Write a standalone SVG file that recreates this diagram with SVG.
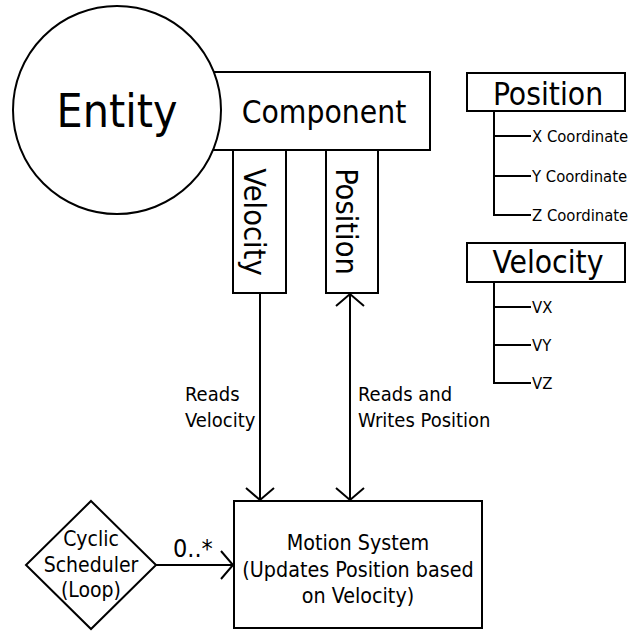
<svg xmlns="http://www.w3.org/2000/svg" width="636" height="631" viewBox="0 0 636 631">
<style>
text{font-family:"DejaVu Sans Condensed","DejaVu Sans",sans-serif;font-stretch:condensed;fill:#000}
.box{fill:#fff;stroke:#000;stroke-width:2}
.ln{fill:none;stroke:#000;stroke-width:2}
.c{text-anchor:middle}
</style>
<defs>
<marker id="open" markerUnits="userSpaceOnUse" markerWidth="32" markerHeight="32" viewBox="-16 -16 32 32" refX="0" refY="0" orient="auto-start-reverse" overflow="visible">
<path d="M-12,-14 L0,0 L-12,14" fill="none" stroke="#000" stroke-width="2"/>
</marker>
</defs>
<rect width="636" height="631" fill="#fff"/>
<g id="component">
<rect class="box" x="200" y="72" width="230" height="78"/>
<text class="c" x="324" y="123" font-size="31.5">Component</text>
</g>
<g id="entity">
<circle class="box" cx="117" cy="110" r="104"/>
<text class="c" x="117" y="127" font-size="46">Entity</text>
</g>
<g id="velocity-component">
<rect class="box" x="233" y="150" width="53" height="143"/>
<text class="c" transform="translate(255,222) rotate(90)" x="0" y="11" font-size="30.5">Velocity</text>
</g>
<g id="position-component">
<rect class="box" x="326" y="150" width="52" height="143"/>
<text class="c" transform="translate(347,221.5) rotate(90)" x="0" y="11" font-size="30.5">Position</text>
</g>
<g id="position-tree">
<rect class="box" x="467" y="73" width="158" height="38"/>
<text class="c" x="548" y="105" font-size="31.5">Position</text>
<path class="ln" d="M494,111 V215 H531 M494,136 H531 M494,176 H531"/>
<text x="532" y="142" font-size="16.5">X Coordinate</text>
<text x="532" y="182" font-size="16.5">Y Coordinate</text>
<text x="532" y="221" font-size="16.5">Z Coordinate</text>
</g>
<g id="velocity-tree">
<rect class="box" x="467" y="243" width="158" height="39"/>
<text class="c" x="548" y="273" font-size="31.5">Velocity</text>
<path class="ln" d="M494,282 V383 H531 M494,307 H531 M494,345 H531"/>
<text x="532" y="313" font-size="16.5">VX</text>
<text x="532" y="351" font-size="16.5">VY</text>
<text x="532" y="389" font-size="16.5">VZ</text>
</g>
<g id="scheduler">
<polygon class="box" points="91,501 156,565 91,629 26,565"/>
<text class="c" x="91" y="546" font-size="21">Cyclic</text>
<text class="c" x="91" y="572" font-size="21">Scheduler</text>
<text class="c" x="91" y="597" font-size="21">(Loop)</text>
</g>
<g id="motion-system">
<rect class="box" x="234" y="501" width="248" height="127"/>
<text class="c" x="358" y="550" font-size="21.3">Motion System</text>
<text class="c" x="358" y="577" font-size="21.3">(Updates Position based</text>
<text class="c" x="358" y="603" font-size="21.3">on Velocity)</text>
</g>
<g id="connectors">
<line class="ln" x1="260" y1="293" x2="260" y2="500" marker-end="url(#open)"/>
<line class="ln" x1="350" y1="294" x2="350" y2="500" marker-start="url(#open)" marker-end="url(#open)"/>
<line class="ln" x1="156" y1="565" x2="233" y2="565" marker-end="url(#open)"/>
<text x="185" y="401" font-size="20">Reads</text>
<text x="185" y="427" font-size="20">Velocity</text>
<text x="358" y="401" font-size="20">Reads and</text>
<text x="358" y="427" font-size="20">Writes Position</text>
<text x="173" y="557" font-size="25">0..*</text>
</g>
</svg>
